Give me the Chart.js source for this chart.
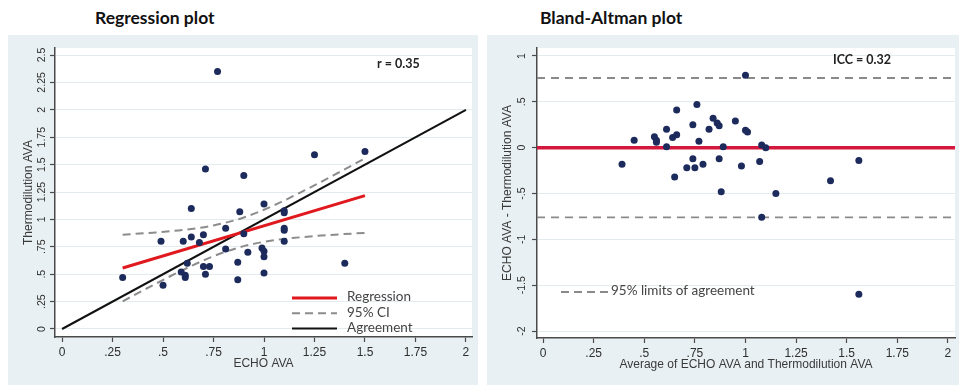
<!DOCTYPE html>
<html>
<head>
<meta charset="utf-8">
<script src="https://cdn.jsdelivr.net/npm/chart.js@4.4.0/dist/chart.umd.min.js"></script>
<style>
  html, body { margin: 0; padding: 0; background: #fff; width: 959px; height: 388px; overflow: hidden; }
  .panel { position: absolute; }
  .ptitle { position: absolute; font: bold 17.5px Lato, 'Open Sans', sans-serif; color: #111; white-space: nowrap; }
</style>
</head>
<body>
<div class="ptitle" style="left:95px;top:7px">Regression plot</div>
<div class="ptitle" style="left:540px;top:7px">Bland-Altman plot</div>
<div class="panel" style="left:8px;top:35px;width:470px;height:350px"><canvas id="regChart"></canvas></div>
<div class="panel" style="left:487px;top:35px;width:472px;height:350px"><canvas id="baChart"></canvas></div>
<script>
// ── Regression plot data ─────────────────────────────────────────────────────
const echoAva   = [0.30, 0.49, 0.50, 0.59, 0.60, 0.61, 0.61, 0.62, 0.64, 0.64, 0.68, 0.70, 0.70, 0.71, 0.71, 0.73, 0.77, 0.81, 0.81,
                   0.87, 0.87, 0.88, 0.90, 0.90, 0.92, 0.99, 1.00, 1.00, 1.00, 1.00, 1.10, 1.10, 1.10, 1.10, 1.10, 1.25, 1.40, 1.50];
const thermoAva = [0.47, 0.80, 0.40, 0.52, 0.80, 0.49, 0.47, 0.60, 0.84, 1.10, 0.79, 0.86, 0.57, 0.50, 1.46, 0.57, 2.35, 0.92, 0.73,
                   0.61, 0.45, 1.07, 0.87, 1.40, 0.70, 0.74, 0.71, 0.66, 0.51, 1.14, 1.08, 1.06, 0.92, 0.90, 0.80, 1.59, 0.60, 1.62];
const regLineX  = [0.30, 1.50];
const regLineY  = [0.557, 1.217];
const ciX       = [0.30, 0.45, 0.60, 0.75, 0.90, 1.05, 1.20, 1.35, 1.50];
const ciUpper   = [0.861, 0.879, 0.904, 0.945, 1.018, 1.129, 1.264, 1.408, 1.557];
const ciLower   = [0.253, 0.400, 0.540, 0.664, 0.756, 0.810, 0.840, 0.861, 0.877];
const agreeX    = [0, 2];
const agreeY    = [0, 2];
const regXTicks = [0, 0.25, 0.5, 0.75, 1, 1.25, 1.5, 1.75, 2];
const regXTickLabels = ['0', '.25', '.5', '.75', '1', '1.25', '1.5', '1.75', '2'];
const regYTicks = [0, 0.25, 0.5, 0.75, 1, 1.25, 1.5, 1.75, 2, 2.25, 2.5];
const regYTickLabels = ['0', '.25', '.5', '.75', '1', '1.25', '1.5', '1.75', '2', '2.25', '2.5'];
const regLegendLabels = ['Regression', '95% CI', 'Agreement'];
const regNote = 'r = 0.35';

// ── Bland-Altman data ────────────────────────────────────────────────────────
const meanAva = [0.39, 0.45, 0.55, 0.56, 0.56, 0.61, 0.61, 0.64, 0.66, 0.66, 0.65, 0.71, 0.74, 0.74, 0.75, 0.76, 0.77, 0.79, 0.82,
                 0.84, 0.86, 0.87, 0.87, 0.88, 0.89, 0.95, 0.98, 1.00, 1.01, 1.07, 1.08, 1.10, 1.15, 1.08, 1.42, 1.56, 1.56, 1.00];
const diffAva = [-0.18, 0.08, 0.12, 0.08, 0.06, 0.20, 0.01, 0.11, 0.14, 0.41, -0.32, -0.22, 0.25, -0.12, -0.22, 0.47, 0.07, -0.18, 0.20,
                 0.32, 0.27, 0.24, -0.12, -0.48, 0.01, 0.29, -0.20, 0.19, 0.17, -0.15, 0.03, 0.00, -0.50, -0.76, -0.36, -0.14, -1.60, 0.79];
const meanDiff = 0;
const limitsOfAgreement = [0.76, -0.76];
const baXRange = [-0.03, 2.035];
const baYRange = [-2.076, 1.087];
const baXTicks = [0, 0.25, 0.5, 0.75, 1, 1.25, 1.5, 1.75, 2];
const baXTickLabels = ['0', '.25', '.5', '.75', '1', '1.25', '1.5', '1.75', '2'];
const baYTicks = [-2, -1.5, -1, -0.5, 0, 0.5, 1];
const baYTickLabels = ['-2', '-1.5', '-1', '-.5', '0', '.5', '1'];
const baLegendLabel = '95% limits of agreement';
const baNote = 'ICC = 0.32';

// ── Shared styling ───────────────────────────────────────────────────────────
const PANEL_BG = '#e9f0f3';
const AXIS = '#4a4a4a';
const GRID = '#e2ebee';
const DOT = '#1c2b5c';
const SANS = "'Liberation Sans', Arial, sans-serif";
const NOTE_FONT = 'Lato, "Open Sans", sans-serif';

const xy = (xs, ys) => xs.map((x, i) => ({ x, y: ys[i] }));

// Light outer panel, white plot region.
const panelBg = {
    id: 'panelBg',
    beforeDraw(chart) {
        const { ctx, chartArea: a, width, height } = chart;
        ctx.save();
        ctx.fillStyle = PANEL_BG;
        ctx.fillRect(0, 0, width, height);
        ctx.fillStyle = '#fff';
        ctx.fillRect(a.left, a.top, a.right - a.left, a.bottom - a.top);
        ctx.restore();
    },
};

function xScale(range, ticks, labels, titleText, titleBottomPad, height) {
    return {
        type: 'linear',
        min: range[0],
        max: range[1],
        afterBuildTicks: s => { s.ticks = ticks.map(v => ({ value: v })); },
        afterFit: s => { s.height = height; },
        border: { color: AXIS, width: 1.5 },
        grid: { drawOnChartArea: false, tickLength: 5, tickColor: AXIS, tickWidth: 1.2 },
        ticks: { color: '#2e2e2e', font: { family: SANS, size: 12 }, padding: 3, maxRotation: 0, autoSkip: false,
                 callback: (v, i) => labels[i] },
        title: { display: true, text: titleText, color: '#3a3a3a', font: { family: SANS, size: 12 },
                 padding: { top: 0, bottom: titleBottomPad } },
    };
}

function yScale(range, ticks, labels, titleText, labelPad, width) {
    return {
        type: 'linear',
        min: range[0],
        max: range[1],
        afterBuildTicks: s => { s.ticks = ticks.map(v => ({ value: v })); },
        afterFit: s => { s.width = width; },
        border: { color: AXIS, width: 1.5 },
        grid: { color: GRID, lineWidth: 1, tickLength: 5, tickColor: AXIS, tickWidth: 1.2 },
        ticks: { color: '#2e2e2e', font: { family: SANS, size: 10.5 }, minRotation: 90, maxRotation: 90,
                 crossAlign: 'center', padding: labelPad, autoSkip: false, callback: (v, i) => labels[i] },
        title: { display: true, text: titleText, color: '#3a3a3a', font: { family: SANS, size: 12 },
                 padding: { top: 13, bottom: 0 } },
    };
}

// ── Regression plot ──────────────────────────────────────────────────────────
const regOverlay = {
    id: 'regOverlay',
    afterDatasetsDraw(chart) {
        const ctx = chart.ctx;
        const styles = [
            { color: '#e0191f', width: 3, dash: [] },
            { color: '#8c8c8c', width: 2, dash: [8, 5] },
            { color: '#111', width: 2, dash: [] },
        ];
        ctx.save();
        ctx.textBaseline = 'middle';
        regLegendLabels.forEach((label, i) => {
            const y = 263 + i * 15.2;
            ctx.strokeStyle = styles[i].color;
            ctx.lineWidth = styles[i].width;
            ctx.setLineDash(styles[i].dash);
            ctx.beginPath();
            ctx.moveTo(284, y);
            ctx.lineTo(329, y);
            ctx.stroke();
            ctx.fillStyle = '#444';
            ctx.font = '13.5px ' + NOTE_FONT;
            ctx.fillText(label, 339, y - 1);
        });
        ctx.fillStyle = '#222';
        ctx.font = 'bold 12.5px ' + NOTE_FONT;
        ctx.fillText(regNote, 369, 29);
        ctx.restore();
    },
};

new Chart(document.getElementById('regChart'), {
    type: 'scatter',
    data: {
        datasets: [
            { label: 'Observed', data: xy(echoAva, thermoAva), pointRadius: 3.5, pointBackgroundColor: DOT, pointBorderWidth: 0 },
            { label: 'Regression', type: 'line', data: xy(regLineX, regLineY), borderColor: '#e0191f', borderWidth: 3, pointRadius: 0 },
            { label: '95% CI upper', type: 'line', data: xy(ciX, ciUpper), borderColor: '#8c8c8c', borderWidth: 2,
              borderDash: [8, 5], pointRadius: 0, cubicInterpolationMode: 'monotone' },
            { label: '95% CI lower', type: 'line', data: xy(ciX, ciLower), borderColor: '#8c8c8c', borderWidth: 2,
              borderDash: [8, 5], pointRadius: 0, cubicInterpolationMode: 'monotone' },
            { label: 'Agreement', type: 'line', data: xy(agreeX, agreeY), borderColor: '#111', borderWidth: 2, pointRadius: 0 },
        ],
    },
    options: {
        responsive: true,
        maintainAspectRatio: false,
        animation: false,
        events: [],
        layout: { padding: { top: 13, right: 6, left: 0, bottom: 0 } },
        scales: {
            x: xScale([-0.035, 2.03], regXTicks, regXTickLabels, 'ECHO AVA', 14, 48),
            y: yScale([-0.073, 2.564], regYTicks, regYTickLabels, 'Thermodilution AVA', -2, 47),
        },
        plugins: { legend: { display: false }, tooltip: { enabled: false } },
    },
    plugins: [panelBg, regOverlay],
});

// ── Bland-Altman plot ────────────────────────────────────────────────────────
const baOverlay = {
    id: 'baOverlay',
    afterDatasetsDraw(chart) {
        const ctx = chart.ctx;
        ctx.save();
        ctx.strokeStyle = '#8a8a8a';
        ctx.lineWidth = 1.8;
        ctx.setLineDash([8, 5]);
        ctx.beginPath();
        ctx.moveTo(74, 257);
        ctx.lineTo(121, 257);
        ctx.stroke();
        ctx.setLineDash([]);
        ctx.textBaseline = 'middle';
        ctx.fillStyle = '#444';
        ctx.font = '13.5px ' + NOTE_FONT;
        ctx.fillText(baLegendLabel, 124, 256);
        ctx.fillStyle = '#222';
        ctx.font = 'bold 12.5px ' + NOTE_FONT;
        ctx.fillText(baNote, 346, 25);
        ctx.restore();
    },
};

const fullWidth = y => xy(baXRange, [y, y]);

new Chart(document.getElementById('baChart'), {
    type: 'scatter',
    data: {
        datasets: [
            { label: 'Difference', data: xy(meanAva, diffAva), pointRadius: 3.5, pointBackgroundColor: DOT, pointBorderWidth: 0 },
            { label: 'Mean difference', type: 'line', data: fullWidth(meanDiff), borderColor: '#d3173d', borderWidth: 3.5, pointRadius: 0 },
            ...limitsOfAgreement.map(v => ({
                label: '95% limit', type: 'line', data: fullWidth(v), borderColor: '#8a8a8a', borderWidth: 1.8,
                borderDash: [8, 6], pointRadius: 0,
            })),
        ],
    },
    options: {
        responsive: true,
        maintainAspectRatio: false,
        animation: false,
        events: [],
        layout: { padding: { top: 13, right: 4, left: 0, bottom: 0 } },
        scales: {
            x: xScale(baXRange, baXTicks, baXTickLabels, 'Average of ECHO AVA and Thermodilution AVA', 13, 47),
            y: yScale(baYRange, baYTicks, baYTickLabels, 'ECHO AVA - Thermodilution AVA', 1, 50),
        },
        plugins: { legend: { display: false }, tooltip: { enabled: false } },
    },
    plugins: [panelBg, baOverlay],
});
</script>
</body>
</html>
